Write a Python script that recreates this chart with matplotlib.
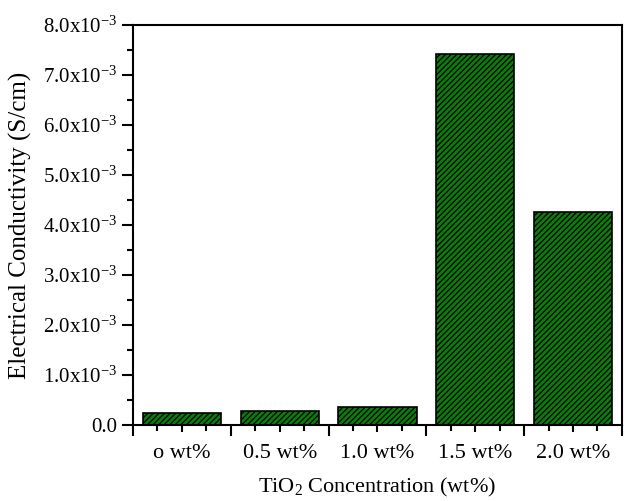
import numpy as np
import matplotlib
matplotlib.use("Agg")
import matplotlib.pyplot as plt
from matplotlib.ticker import MultipleLocator, FixedLocator, FuncFormatter

# data
categories = ["o wt%", "0.5 wt%", "1.0 wt%", "1.5 wt%", "2.0 wt%"]
conductivity = [0.24e-3, 0.28e-3, 0.37e-3, 7.42e-3, 4.26e-3]

plt.rcParams['font.family'] = ['Liberation Serif', 'DejaVu Serif']
plt.rcParams['mathtext.fontset'] = 'custom'
plt.rcParams['mathtext.rm'] = 'Liberation Serif'
plt.rcParams['mathtext.it'] = 'Liberation Serif:italic'
plt.rcParams['hatch.linewidth'] = 0.9

fig = plt.figure(figsize=(6.32, 5.01), dpi=100)
ax = fig.add_axes([0.2104, 0.1517, 0.7736, 0.7983])

x = np.arange(1, len(categories) + 1)
ax.bar(x, conductivity, width=0.8, color='#0a7d0a', edgecolor='black',
       linewidth=1.2, hatch='//////')

ax.set_xlim(0.5, len(categories) + 0.5)
ax.set_ylim(0, 8e-3)

# x axis: long ticks at category boundaries, short ticks at centres
ax.xaxis.set_major_locator(FixedLocator(x))
ax.set_xticks(np.arange(0.5, len(categories) + 1, 1.0), minor=True)
ax.set_xticklabels(categories)
ax.tick_params(axis='x', which='major', length=5, width=1.5, direction='out',
               labelsize=16, pad=9)
ax.tick_params(axis='x', which='minor', length=8, width=1.5, direction='out')
# small ticks at quarter positions
for xm in np.concatenate([x - 0.25, x + 0.25]):
    ax.plot([xm, xm], [0, -0.0001], color='black', lw=1.5, clip_on=False)

def sci_fmt(v, pos):
    if abs(v) < 1e-12:
        return "0.0"
    return r"$\mathregular{%.1fx10^{-3}}$" % (v * 1e3)

ax.yaxis.set_major_locator(MultipleLocator(1e-3))
ax.yaxis.set_minor_locator(MultipleLocator(0.5e-3))
ax.yaxis.set_major_formatter(FuncFormatter(sci_fmt))
ax.tick_params(axis='y', which='major', length=8, width=1.5, direction='out',
               labelsize=15, pad=3)
ax.tick_params(axis='y', which='minor', length=4, width=1.5, direction='out')

for s in ax.spines.values():
    s.set_linewidth(1.5)

ax.set_ylabel("Electrical Conductivity (S/cm)", fontsize=18, labelpad=8)
ax.set_xlabel(r"TiO$_\mathregular{2}$ Concentration (wt%)", fontsize=16, labelpad=9)

fig.savefig("out.png", dpi=100)
